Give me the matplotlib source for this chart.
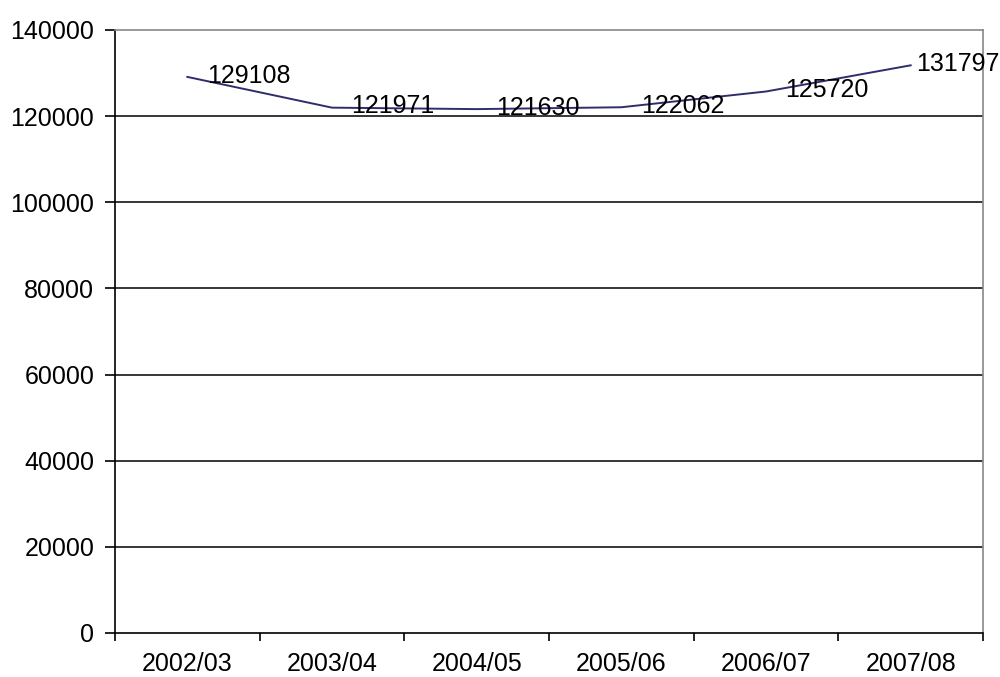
import matplotlib
matplotlib.use("Agg")
import matplotlib.pyplot as plt
from matplotlib.ticker import FixedLocator, NullFormatter

plt.rcParams['font.family'] = ['Liberation Sans', 'DejaVu Sans']

categories = ["2002/03", "2003/04", "2004/05", "2005/06", "2006/07", "2007/08"]
values = [129108, 121971, 121630, 122062, 125720, 131797]
y_ticks = [0, 20000, 40000, 60000, 80000, 100000, 120000, 140000]

fig = plt.figure(figsize=(10, 6.77), dpi=100)
ax = fig.add_axes([0.115, 0.065, 0.868, 0.8907])

x = list(range(len(categories)))
ax.plot(x, values, color="#2f2d6b", linewidth=1.4, zorder=3)

for i, v in enumerate(values):
    off = 14 if i < len(values) - 1 else 4
    ax.annotate(str(v), (i, v), xytext=(off, 1), textcoords="offset points",
                ha="left", va="center", fontsize=18, color="black", zorder=4)

ax.set_xlim(-0.5, len(categories) - 0.5)
ax.set_ylim(0, 140000)
ax.set_yticks(y_ticks)
ax.set_yticklabels([str(t) for t in y_ticks])

ax.set_xticks(x)
ax.set_xticklabels(categories)
ax.xaxis.set_minor_locator(FixedLocator([i - 0.5 for i in range(len(categories) + 1)]))
ax.xaxis.set_minor_formatter(NullFormatter())
ax.tick_params(axis="x", which="major", length=0, pad=14, labelsize=18)
ax.tick_params(axis="x", which="minor", length=6, width=1.2, color="black")
ax.tick_params(axis="y", length=7, width=1.2, pad=8, labelsize=18)

for t in y_ticks[1:-1]:
    ax.axhline(t, color="black", linewidth=1.1, zorder=1)

ax.spines["left"].set_color("black")
ax.spines["left"].set_linewidth(1.2)
ax.spines["bottom"].set_color("black")
ax.spines["bottom"].set_linewidth(1.2)
ax.spines["top"].set_color("#888888")
ax.spines["top"].set_linewidth(1.2)
ax.spines["right"].set_color("#888888")
ax.spines["right"].set_linewidth(1.2)

fig.savefig("out.png", dpi=100, facecolor="white")
